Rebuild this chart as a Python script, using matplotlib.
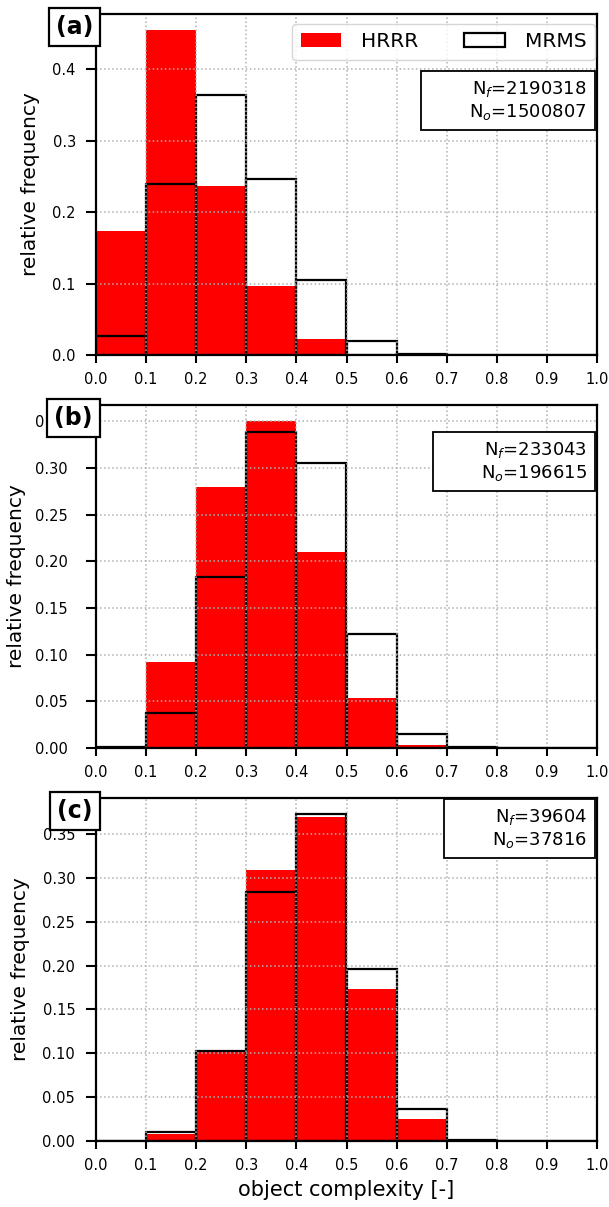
import matplotlib
matplotlib.use("Agg")
import matplotlib.pyplot as plt
from matplotlib.ticker import MultipleLocator, FormatStrFormatter

# ---- data ----
bin_left = [0.0, 0.1, 0.2, 0.3, 0.4, 0.5, 0.6, 0.7, 0.8, 0.9]
bin_width = 0.1
xticks = [0.0, 0.1, 0.2, 0.3, 0.4, 0.5, 0.6, 0.7, 0.8, 0.9, 1.0]

hrrr_a = [0.174, 0.455, 0.237, 0.097, 0.0225, 0.0003, 0.0, 0.0, 0.0, 0.0]
mrms_a = [0.026, 0.239, 0.364, 0.246, 0.105, 0.020, 0.0015, 0.0, 0.0, 0.0]

hrrr_b = [0.0003, 0.0924, 0.280, 0.350, 0.2097, 0.0536, 0.003, 0.0, 0.0, 0.0]
mrms_b = [0.0015, 0.037, 0.183, 0.339, 0.305, 0.122, 0.015, 0.0007, 0.0, 0.0]

hrrr_c = [0.0, 0.0084, 0.101, 0.309, 0.370, 0.1737, 0.0256, 0.0005, 0.0, 0.0]
mrms_c = [0.0, 0.0099, 0.103, 0.284, 0.3726, 0.196, 0.0367, 0.0015, 0.0, 0.0]

panel_labels = ["(a)", "(b)", "(c)"]
n_f = [2190318, 233043, 39604]
n_o = [1500807, 196615, 37816]
series_names = ["HRRR", "MRMS"]
xlabel = "object complexity [-]"
ylabel = "relative frequency"

# ---- layout ----
W, H = 609, 1207
fig = plt.figure(figsize=(W / 100, H / 100), dpi=100)
left = 96 / W
width = (597 - 96) / W
axes_px = [(14, 355), (405, 748), (798, 1141)]
ann_y = [0.8094, 0.898, 0.974]
ystep = [0.1, 0.05, 0.05]
yfmt = ["%.1f", "%.2f", "%.2f"]
ytick_pad = [7.5, 13.5, 8.0]
ylabel_x = [-0.112, -0.140, -0.132]

data = [(hrrr_a, mrms_a), (hrrr_b, mrms_b), (hrrr_c, mrms_c)]

for i, ((top, bot), (hr, mr)) in enumerate(zip(axes_px, data)):
    ax = fig.add_axes([left, 1 - bot / H, width, (bot - top) / H])
    ax.bar(bin_left, hr, width=bin_width, align="edge", color="#ff0000",
           edgecolor="none", label=series_names[0], zorder=1)
    ax.bar(bin_left, mr, width=bin_width, align="edge", fill=False,
           edgecolor="black", linewidth=1.6, label=series_names[1], zorder=1.1)
    ax.set_xlim(0, 1)
    ax.set_xticks(xticks)
    ax.yaxis.set_major_locator(MultipleLocator(ystep[i]))
    ax.yaxis.set_major_formatter(FormatStrFormatter(yfmt[i]))
    ax.grid(True, linestyle=":", color="#b0b0b0", linewidth=1.1)
    for s in ax.spines.values():
        s.set_linewidth(1.6)
        s.set_zorder(2.6)
    ax.tick_params(axis="x", labelsize=10.5, length=6, width=1.5, pad=6)
    ax.tick_params(axis="y", labelsize=10.5, length=7, width=1.5, pad=ytick_pad[i])
    ax.set_ylabel(ylabel, fontsize=14.5)
    ax.yaxis.set_label_coords(ylabel_x[i], 0.5)
    if i == 2:
        ax.set_xlabel(xlabel, fontsize=15, labelpad=5)

    # panel label box
    ax.text(-0.006, 0.997, panel_labels[i], transform=ax.transAxes,
            ha="right", va="top", fontsize=17, fontweight="bold",
            bbox=dict(boxstyle="square,pad=0.3", facecolor="white",
                      edgecolor="black", linewidth=1.6),
            zorder=10, clip_on=False)

    # counts box
    txt = "       N$_f$=%d\n       N$_o$=%d" % (n_f[i], n_o[i])
    ax.text(0.980, ann_y[i], txt, transform=ax.transAxes, ha="right", va="top",
            multialignment="right", fontsize=13,
            bbox=dict(boxstyle="square,pad=0.45", facecolor="white",
                      edgecolor="black", linewidth=1.3),
            zorder=10)

    if i == 0:
        ax.legend(loc="upper right", bbox_to_anchor=(0.996, 0.971),
                  borderaxespad=0, ncol=2, fontsize=14.5, handletextpad=1.0,
                  columnspacing=2.3, borderpad=0.42)

fig.savefig("out.png", dpi=100)
